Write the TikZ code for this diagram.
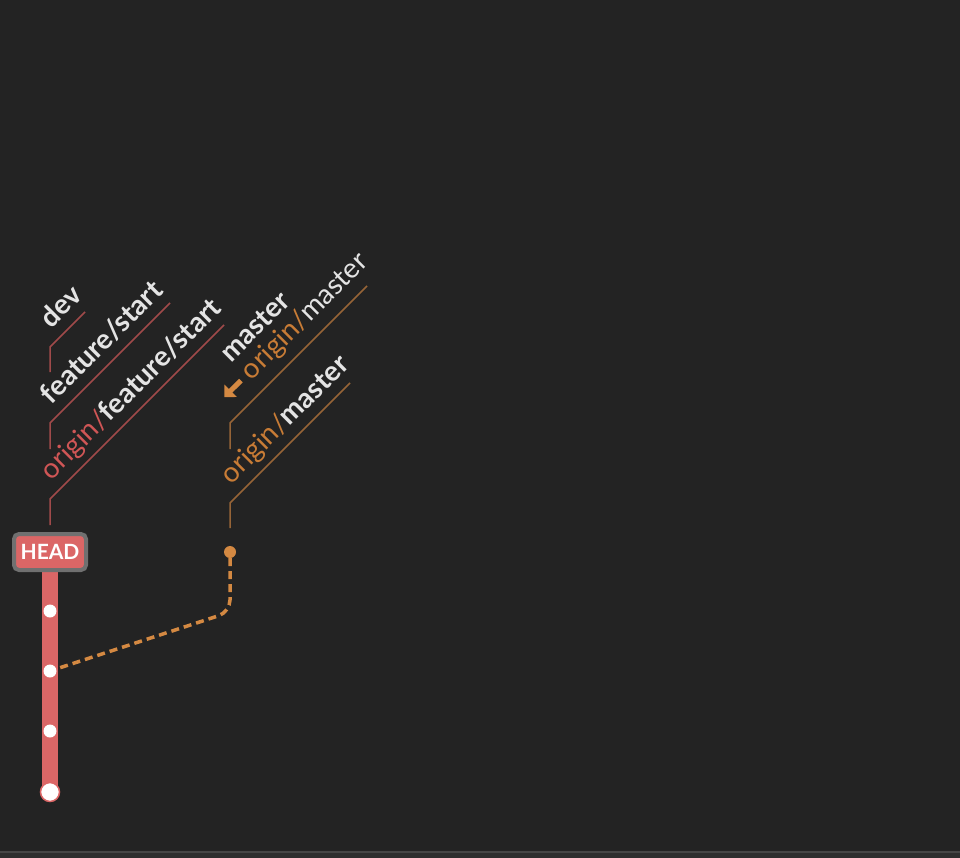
\documentclass[tikz,border=0pt]{standalone}
\usepackage{fontspec}
\setmainfont{Lato}
\usetikzlibrary{arrows.meta}
\definecolor{bg}{RGB}{35,35,35}
\definecolor{barfill}{RGB}{46,46,46}
\definecolor{barline}{RGB}{70,70,70}
\definecolor{branchred}{RGB}{219,102,102}
\definecolor{leadred}{RGB}{160,74,74}
\definecolor{txtred}{RGB}{208,86,86}
\definecolor{branchorange}{RGB}{212,137,66}
\definecolor{leadorange}{RGB}{150,100,55}
\definecolor{txtorange}{RGB}{200,124,54}
\definecolor{txtwhite}{RGB}{228,228,228}
\definecolor{headborder}{RGB}{112,112,112}
\tikzset{
  lbl/.style={rotate=45, anchor=base west, inner sep=0pt, text=txtwhite, font=\fontsize{28}{28}\selectfont},
  leadR/.style={draw=leadred, line width=1.5pt},
  leadO/.style={draw=leadorange, line width=1.5pt},
  commitdot/.style={circle, fill=white, inner sep=0pt, minimum size=13pt},
  headbox/.style={rounded corners=5pt, fill=branchred, draw=headborder, line width=4pt, text=white, font=\bfseries\fontsize{21}{21}\selectfont, minimum width=72pt, minimum height=36pt, inner sep=0pt},
}
\begin{document}
\begin{tikzpicture}[x=1pt, y=-1pt]
\useasboundingbox (0,0) rectangle (960,858);
\fill[bg] (0,0) rectangle (960,858);
\fill[barfill] (0,852) rectangle (960,858);
\draw[barline, line width=2pt] (0,852) -- (960,852);

% orange remote
\node[circle, fill=branchorange, inner sep=0pt, minimum size=12pt] (om) at (230,552) {};
\coordinate (ocorner) at (230,612);
\coordinate (c2pos) at (50,671);

% red branch
\coordinate (rtop) at (50,560);
\coordinate (c4pos) at (50,792);
\draw[branchred, line width=16pt] (rtop) -- (c4pos);
\draw[branchorange, line width=3.5pt, dash pattern=on 8pt off 5pt, rounded corners=12pt] (om.south) -- (ocorner) -- (c2pos);
\node[circle, fill=white, draw=branchred, line width=1.5pt, inner sep=0pt, minimum size=19pt] (c4) at (c4pos) {};
\node[commitdot] (c1) at (50,611) {};
\node[commitdot] (c2) at (c2pos) {};
\node[commitdot] (c3) at (50,731) {};
\node[headbox] (head) at (50,552) {HEAD};

% left labels
\coordinate (devB) at (50,372); \coordinate (devP) at (50,347); \coordinate (devE) at (85,312);
\draw[leadR] (devB) -- (devP) -- (devE);
\node[lbl] (dev) at (51.6,329.3) {\bfseries dev};

\coordinate (fsB) at (50,449); \coordinate (fsP) at (50,423); \coordinate (fsE) at (170,303);
\draw[leadR] (fsB) -- (fsP) -- (fsE);
\node[lbl] (fs) at (51.6,405.3) {\bfseries feature/start};

\coordinate (ofsB) at (50,525); \coordinate (ofsP) at (50,499); \coordinate (ofsE) at (224,325);
\draw[leadR] (ofsB) -- (ofsP) -- (ofsE);
\node[lbl] (ofs) at (51.6,481.3) {\textcolor{txtred}{origin/}\textbf{feature/start}};

% right labels
\coordinate (mB) at (230,449); \coordinate (mP) at (230,423); \coordinate (mE) at (367,286);
\draw[leadO] (mB) -- (mP) -- (mE);
\node[lbl] (m) at (230.9,363.6) {\bfseries master};
\node[lbl] (om2) at (251.8,381.3) {\textcolor{txtorange}{origin/}master};
\coordinate (arT) at (240.9,380.6); \coordinate (arH) at (224.3,397.1);
\draw[branchorange, line width=5pt, -{Triangle[length=9pt,width=17pt]}] (arT) -- (arH);

\coordinate (omB) at (230,528); \coordinate (omP) at (230,503); \coordinate (omE) at (350,383);
\draw[leadO] (omB) -- (omP) -- (omE);
\node[lbl] (omlbl) at (231.6,485.3) {\textcolor{txtorange}{origin/}\textbf{master}};
\end{tikzpicture}
\end{document}
